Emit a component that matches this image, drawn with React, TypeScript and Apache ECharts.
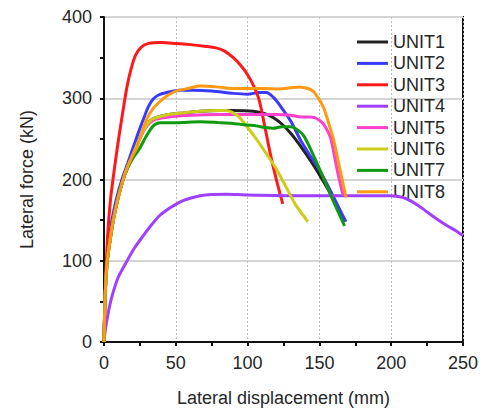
import React, { useEffect, useRef } from "react";
import * as echarts from "echarts";

const unitNames = ["UNIT1", "UNIT2", "UNIT3", "UNIT4", "UNIT5", "UNIT6", "UNIT7", "UNIT8"];
const unitColors = ["#222222", "#3a3aff", "#ff1a1a", "#a040ff", "#ff40cc", "#cccc1a", "#109a10", "#ff9a10"];

const unit1: number[][] = [[0,0],[0.5,40],[1.2,72],[2.3,100],[4.2,125],[6.5,150],[9.5,175],[13,198],[16.5,216],[20,230],[24,247],[28,262],[32,272],[36,276],[45,280],[55,282],[67,284],[80,285],[90,285],[104,284],[112,281],[118,276],[124,268],[130,257],[136.5,242],[145,220],[152,200],[160,175],[167,148]];
const unit2: number[][] = [[0,0],[0.5,45],[1.2,80],[2,100],[3.5,125],[5.5,150],[8.5,175],[12.5,200],[16.5,220],[20.4,240],[24,258],[27.4,274],[31,290],[34.3,299],[38,304],[43.6,307],[52.9,310],[62,310],[75,309],[90,306],[100,305],[108,307],[113,307],[118,301],[123,290],[130,272],[137,248],[144,228],[150,212],[158,185],[165,160],[168.5,148]];
const unit3: number[][] = [[0,0],[1,70],[2.5,130],[4.5,175],[7,210],[10,248],[13,282],[16,314],[19,337],[22,353],[26,363],[31,367.5],[40,368.6],[50,367.5],[60,366],[70,364],[78,362],[84,358],[90,350],[95,341],[100,329],[104,316],[108,298],[112,265],[116,230],[120,200],[122.5,183],[124.5,170]];
const unit4: number[][] = [[0,0],[0.7,12],[1.85,25],[4,45],[6.5,62],[10,80],[15.8,99],[21,115],[27.4,131],[33,144],[39,156],[45,164],[50.6,170],[55,174],[60,177],[67,180],[75,181.5],[85,182],[100,181],[140,180],[180,180],[199,180],[205,179],[211,176],[218,169],[225,160],[232,151],[239,143],[245,137],[250,131]];
const unit5: number[][] = [[0,0],[0.5,40],[1.2,72],[2.3,100],[4.2,125],[6.5,150],[9.5,175],[13,198],[16.5,216],[20,230],[24,247],[28,261],[32,270],[36,274],[45,277],[60,279],[80,280],[100,280],[120,280],[130,279],[137,277],[143,277],[147,276],[152,270],[155,262],[158,250],[162,215],[166.5,180]];
const unit6: number[][] = [[0,0],[0.5,40],[1.2,72],[2.3,100],[4.2,125],[6.5,150],[9.5,175],[13,198],[16.5,216],[20,230],[24,247],[28,262],[32,272],[36,276],[45,280],[55,282],[67,284],[78,285],[85,285],[89,283],[94,277],[100,264],[106,250],[113,232],[120,213],[127,190],[133,170],[137,160],[142,148]];
const unit7: number[][] = [[0,0],[0.5,40],[1.2,72],[2.3,100],[4.2,125],[6.5,150],[9.5,175],[13,198],[16.5,214],[20,226],[24.4,237],[29,252],[34.3,266],[39,270],[50,270],[67,271],[80,270],[90,269],[100,267],[106,266],[112,264],[118,263],[124,265],[130,265],[134,262],[139,254],[145,233],[152,205],[160,172],[167.5,143]];
const unit8: number[][] = [[0,0],[0.5,40],[1.2,72],[2.3,100],[4.2,125],[6.5,150],[9.5,175],[13,198],[16.5,216],[19.5,228],[22.5,238],[26,256],[29.7,274],[34,287],[39,296],[44,303],[50.6,309],[60,312.7],[67,315],[78,314],[90,312],[100,312],[112,312],[122,311.5],[130,313],[136,314],[142,312],[146,308],[150,298],[153,288],[156,272],[160,248],[164,215],[168.5,178]];

const unitData = [unit1, unit2, unit3, unit4, unit5, unit6, unit7, unit8];

const xTicks = [0, 50, 100, 150, 200, 250];
const yTicks = [0, 100, 200, 300, 400];

const FONT = "'Liberation Sans', Arial, sans-serif";

export default function App() {
  const ref = useRef<HTMLDivElement>(null);
  useEffect(() => {
    if (!ref.current) return;
    const chart = echarts.init(ref.current, null, { renderer: "svg" });
    chart.setOption({
      animation: false,
      textStyle: { fontFamily: FONT },
      grid: {
        left: 104, top: 17, right: 23, bottom: 68,
        show: true, borderColor: "#111", borderWidth: 2, backgroundColor: "transparent",
      },
      legend: {
        data: unitNames,
        orient: "vertical",
        left: 352, top: 28,
        itemWidth: 31, itemHeight: 3, itemGap: 3.4,
        icon: "rect",
        textStyle: { fontFamily: FONT, fontSize: 18, color: "#262626" },
      },
      xAxis: {
        type: "value", min: xTicks[0], max: xTicks[xTicks.length - 1], interval: 50,
        name: "Lateral displacement (mm)", nameLocation: "middle", nameGap: 47,
        nameTextStyle: { fontFamily: FONT, fontSize: 18, color: "#262626" },
        axisLine: { show: true, lineStyle: { color: "#111", width: 2 } },
        axisTick: { show: true, inside: false, length: 4, lineStyle: { color: "#111", width: 2 } },
        minorTick: { show: true, splitNumber: 2, length: 4, lineStyle: { color: "#111", width: 2 } },
        axisLabel: { fontFamily: FONT, fontSize: 18, color: "#262626", margin: 12 },
        splitLine: { show: true, lineStyle: { color: "#bbb", width: 1, type: [2, 2] } },
      },
      yAxis: {
        type: "value", min: yTicks[0], max: yTicks[yTicks.length - 1], interval: 100,
        name: "Lateral force (kN)", nameLocation: "middle", nameGap: 68,
        nameTextStyle: { fontFamily: FONT, fontSize: 18, color: "#262626" },
        axisLine: { show: true, lineStyle: { color: "#111", width: 2 } },
        axisTick: { show: true, inside: false, length: 4, lineStyle: { color: "#111", width: 2 } },
        minorTick: { show: true, splitNumber: 2, length: 4, lineStyle: { color: "#111", width: 2 } },
        axisLabel: { fontFamily: FONT, fontSize: 18, color: "#262626", margin: 12 },
        splitLine: { show: true, lineStyle: { color: "#d4d4d4", width: 2 } },
      },
      series: unitNames.map((name, i) => ({
        name,
        type: "line",
        data: unitData[i],
        symbol: "none",
        smooth: 0.3,
        color: unitColors[i],
        lineStyle: { width: 3, color: unitColors[i] },
        z: 2 + i,
      })),
    });
    return () => chart.dispose();
  }, []);
  return <div ref={ref} style={{ position: "absolute", left: 0, top: 0, width: 486, height: 412 }} />;
}
